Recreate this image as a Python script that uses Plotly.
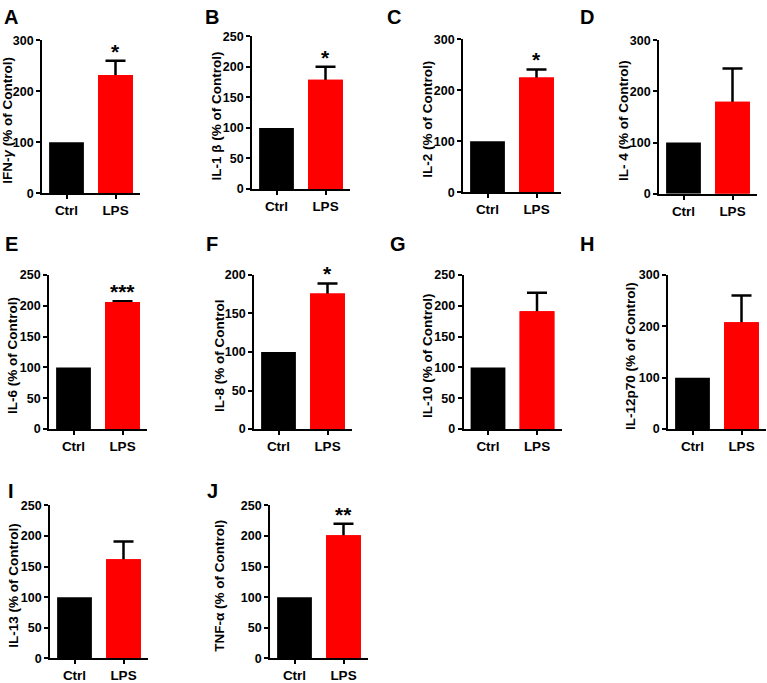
import plotly.graph_objects as go

W, H = 767, 683

# ---- data ----
categories = ["Ctrl", "LPS"]
panel_letters = ["A", "B", "C", "D", "E", "F", "G", "H", "I", "J"]
y_titles = ["IFN-<i>γ</i> (% of Control)", "IL-1 β (% of Control)", "IL-2 (% of Control)",
            "IL- 4 (% of Control)", "IL-6 (% of Control)", "IL-8 (% of Control",
            "IL-10 (% of Control)", "IL-12p70 (% of Control)", "IL-13 (% of Control)",
            "TNF-α (% of Control)"]
ctrl_values = [100, 100, 100, 100, 100, 100, 100, 100, 100, 100]
lps_values = [232, 179, 225, 180, 206, 176, 191, 208, 162, 201]
lps_errors = [28, 21, 16, 65, 1.5, 13, 30, 52, 29, 19]
significance = ["*", "*", "*", "", "***", "*", "", "", "", "**"]
y_max = [300, 250, 300, 300, 250, 200, 250, 300, 250, 250]
y_dtick = [100, 50, 100, 100, 50, 50, 50, 100, 50, 50]

# ---- layout (page pixels) ----
axis_x = [42, 252, 463, 659, 49, 254, 463.5, 668, 50, 270]
plot_top = [34, 30, 33, 34, 274, 274, 274, 274, 509.5, 509.5]
plot_bot = [190.5, 186, 189.5, 191, 431.5, 431.5, 431.5, 431.5, 666, 666]
title_x = [8, 217, 428, 624, 13, 220, 428, 631, 14, 220]
letter_pos = [(11, 10), (212, 10), (394, 10), (587, 10),
              (11, 242), (212, 242), (398, 242), (587, 242),
              (11, 495), (212, 495)]
PW = 98


def px(xp):
    return xp / W


def py(yp):
    return 1 - yp / H


FONT = "Liberation Sans, Arial, sans-serif"
fig = go.Figure()
annotations = []
layout = {}

for i in range(10):
    n = "" if i == 0 else str(i + 1)
    xa, ya = "x" + n, "y" + n
    a = axis_x[i]
    xd = [px(a), min(1.0, px(a + PW))]
    yd = [py(plot_bot[i]), py(plot_top[i])]
    # error bar trace (its lower end hidden under the bar drawn afterwards)
    fig.add_trace(go.Bar(
        x=[categories[1]], y=[lps_values[i]], xaxis=xa, yaxis=ya,
        marker=dict(color="red", line=dict(width=0)), width=0.71,
        error_y=dict(type="data", symmetric=False, array=[lps_errors[i]],
                     arrayminus=[min(8, lps_values[i] * 0.05)],
                     color="black", thickness=2.5, width=10),
        showlegend=False, hoverinfo="skip"))
    fig.add_trace(go.Bar(
        x=categories, y=[ctrl_values[i], lps_values[i]], xaxis=xa, yaxis=ya,
        marker=dict(color=["black", "red"], line=dict(width=0)), width=0.71,
        showlegend=False))
    layout["xaxis" + n] = dict(
        domain=xd, anchor=ya, type="category", categoryorder="array",
        categoryarray=categories, range=[-0.5, 1.5], showline=True,
        linecolor="black", linewidth=1.6, ticks="outside", ticklen=4,
        tickwidth=1.6, tickcolor="black", showgrid=False, zeroline=False,
        tickfont=dict(family=FONT, size=13.5, color="black", weight="bold"),
        fixedrange=True)
    layout["yaxis" + n] = dict(
        domain=yd, anchor=xa, range=[0, y_max[i]], dtick=y_dtick[i], tick0=0,
        showline=True, linecolor="black", linewidth=1.6, ticks="outside",
        ticklen=4, tickwidth=1.6, tickcolor="black", showgrid=False,
        zeroline=False,
        tickfont=dict(family=FONT, size=12.5, color="black", weight="bold"),
        fixedrange=True)
    # y-axis title
    annotations.append(dict(
        text=y_titles[i], textangle=-90, xref="paper", yref="paper",
        x=px(title_x[i]), y=py((plot_top[i] + plot_bot[i]) / 2 + 4),
        xanchor="center", yanchor="middle", showarrow=False,
        font=dict(family=FONT, size=13.5, color="black", weight="bold")))
    # panel letter
    lx, ly = letter_pos[i]
    annotations.append(dict(
        text=panel_letters[i], xref="paper", yref="paper",
        x=px(lx), y=py(ly), xanchor="center", yanchor="middle",
        showarrow=False,
        font=dict(family=FONT, size=20, color="black", weight="bold")))
    # significance stars
    if significance[i]:
        annotations.append(dict(
            text=significance[i], xref=xa, yref=ya, x=categories[1],
            y=lps_values[i] + lps_errors[i], xanchor="center",
            yanchor="bottom", yshift=-4, showarrow=False,
            font=dict(family=FONT, size=21, color="black", weight="bold")))

fig.update_layout(
    width=W, height=H, margin=dict(l=0, r=0, t=0, b=0),
    paper_bgcolor="white", plot_bgcolor="white", barmode="overlay",
    showlegend=False, annotations=annotations, **layout)

fig.write_html(
    "out.html", config={"displayModeBar": False},
    post_script="document.body.style.margin='0';"
                "document.body.style.overflow='hidden';")
